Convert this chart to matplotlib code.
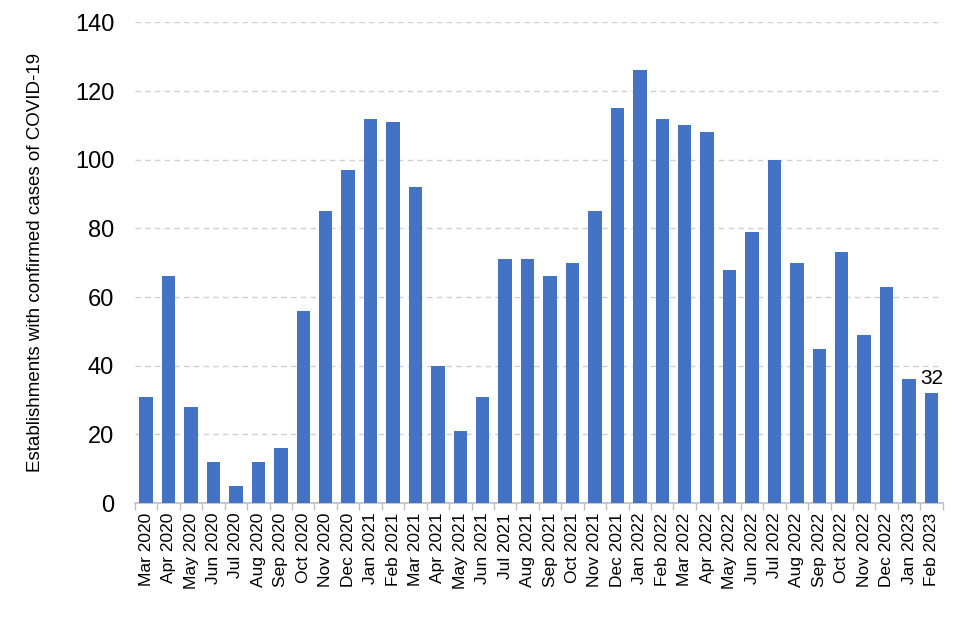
import matplotlib
matplotlib.use("Agg")
import matplotlib.pyplot as plt
import numpy as np

months = ["Mar 2020", "Apr 2020", "May 2020", "Jun 2020", "Jul 2020", "Aug 2020",
          "Sep 2020", "Oct 2020", "Nov 2020", "Dec 2020", "Jan 2021", "Feb 2021",
          "Mar 2021", "Apr 2021", "May 2021", "Jun 2021", "Jul 2021", "Aug 2021",
          "Sep 2021", "Oct 2021", "Nov 2021", "Dec 2021", "Jan 2022", "Feb 2022",
          "Mar 2022", "Apr 2022", "May 2022", "Jun 2022", "Jul 2022", "Aug 2022",
          "Sep 2022", "Oct 2022", "Nov 2022", "Dec 2022", "Jan 2023", "Feb 2023"]
values = [31, 66, 28, 12, 5, 12, 16, 56, 85, 97, 112, 111,
          92, 40, 21, 31, 71, 71, 66, 70, 85, 115, 126, 112,
          110, 108, 68, 79, 100, 70, 45, 73, 49, 63, 36, 32]
y_ticks = [0, 20, 40, 60, 80, 100, 120, 140]
y_label = "Establishments with confirmed cases of COVID-19"

plt.rcParams['font.family'] = ['Liberation Sans', 'DejaVu Sans']

fig = plt.figure(figsize=(9.6, 6.4), dpi=100)
ax = fig.add_axes([0.1406, 0.214, 0.8414, 0.751])

x = np.arange(len(months))
ax.bar(x, values, width=0.6, color="#4472C4", zorder=3)

ax.set_xlim(-0.5, len(months) - 0.5)
ax.set_ylim(0, 140)
ax.set_yticks(y_ticks)
ax.set_yticklabels([str(v) for v in y_ticks], fontsize=17)
ax.set_xticks(x)
ax.set_xticklabels(months, rotation=90, fontsize=12.5)
ax.set_xticks(np.arange(-0.5, len(months), 1.0), minor=True)
ax.tick_params(axis='x', which='major', length=0, pad=7)
ax.tick_params(axis='x', which='minor', length=5, color="#BFBFBF", width=1)
ax.tick_params(axis='y', length=0, pad=15)

ax.yaxis.grid(True, linestyle=(0, (4, 3)), color="#D0D0D0", linewidth=1, zorder=0)
ax.set_axisbelow(True)
for s in ["top", "right", "left"]:
    ax.spines[s].set_visible(False)
ax.spines["bottom"].set_color("#BFBFBF")
ax.spines["bottom"].set_linewidth(1.2)

ax.set_ylabel(y_label, fontsize=13.5)
ax.yaxis.set_label_coords(-0.113, 0.5)

ax.annotate(str(values[-1]), xy=(x[-1], values[-1]), xytext=(0, 4),
            textcoords="offset points", ha="center", va="bottom", fontsize=15)

fig.savefig("out.png", dpi=100)
